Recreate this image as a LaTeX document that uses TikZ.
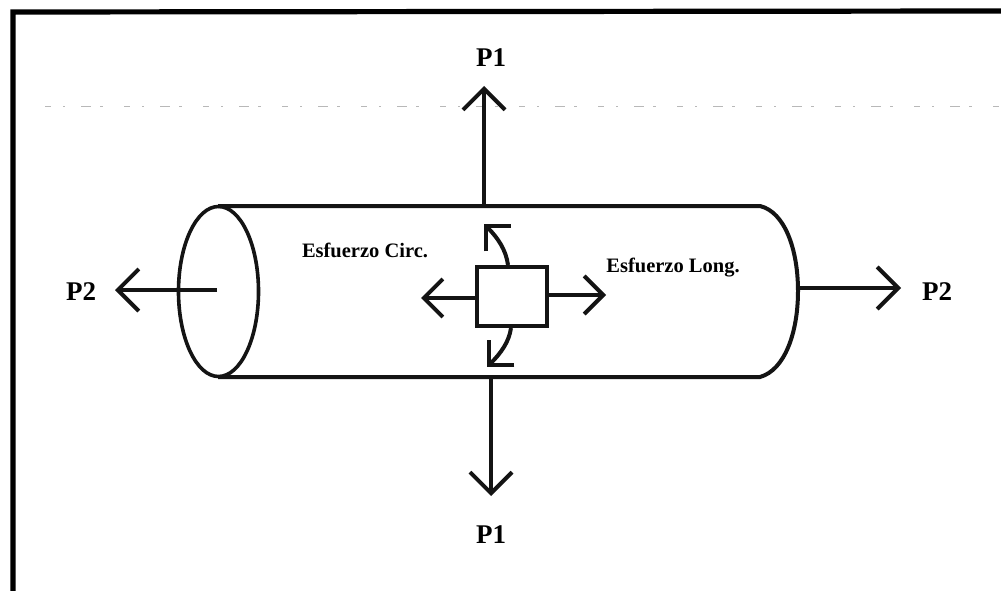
\documentclass[tikz,border=0pt]{standalone}
\usepackage{fontspec}
\setmainfont{Liberation Serif}
\usetikzlibrary{arrows.meta,shapes.geometric}
\tikzset{
  ink/.style={draw=black!92,line width=4pt},
  bigarrow/.style={ink,-{Straight Barb[length=21pt,width=42pt,line width=4pt]}},
  smallarrow/.style={ink,-{Straight Barb[length=19pt,width=38pt,line width=4pt]}},
  curvearrow/.style={ink,-{Straight Barb[length=18pt,width=36pt,line width=4pt]}},
  biglabel/.style={font=\bfseries\fontsize{27}{27}\selectfont,inner sep=0pt},
  smalllabel/.style={font=\bfseries\fontsize{20.5}{21}\selectfont,inner sep=0pt},
  frameline/.style={draw=black,line width=5.2pt},
  scanline/.style={draw=black!28,line width=1pt,dash pattern=on 6pt off 12pt on 2pt off 16pt on 10pt off 9pt on 3pt off 21pt}
}
\begin{document}
\begin{tikzpicture}[x=1pt,y=-1pt]
\useasboundingbox (0,0) rectangle (1001,591);
\fill[white] (0,0) rectangle (1001,591);
% frame of the scan
\coordinate (fa) at (13,591);
\coordinate (fb) at (13,12);
\coordinate (fc) at (1001,11);
\draw[frameline,line join=miter] (fa) -- (fb) -- (fc);
\coordinate (sa) at (45,106.5);
\coordinate (sb) at (1001,106.5);
\draw[scanline] (sa) -- (sb);
% cylinder body
\coordinate (bl) at (218,206);
\coordinate (br) at (760,206);
\coordinate (dr) at (760,377);
\coordinate (dl) at (218,377);
\draw[ink] (bl) -- (br) .. controls (785,212) and (798,250) .. (798,291)
  .. controls (798,332) and (785,370) .. (dr) -- (dl);
\node[ellipse,ink,line width=3.6pt,minimum width=80pt,minimum height=170pt,inner sep=0pt] (cap) at (218.5,291.5) {};
% stress element
\node[ink,minimum width=70pt,minimum height=59pt,inner sep=0pt] (elem) at (511.5,296) {};
% labels
\node[biglabel] (ptop) at (491,58) {P1};
\node[biglabel] (pbot) at (491,535) {P1};
\node[biglabel] (pleft) at (81,292) {P2};
\node[biglabel] (pright) at (937,292) {P2};
\node[smalllabel] (circ) at (365,250) {Esfuerzo Circ.};
\node[smalllabel] (long) at (673,268) {Esfuerzo Long.};
% load arrows
\coordinate (ta) at (484,206);
\coordinate (tb) at (484,86);
\draw[bigarrow] (ta) -- (tb);
\coordinate (ba) at (491,377);
\coordinate (bb) at (491,496);
\draw[bigarrow] (ba) -- (bb);
\coordinate (la) at (217,290);
\coordinate (lb) at (115,290);
\draw[bigarrow] (la) -- (lb);
\coordinate (ra) at (798,288);
\coordinate (rb) at (901,288);
\draw[bigarrow] (ra) -- (rb);
% element arrows
\coordinate (ela) at (421,298);
\draw[smallarrow] (elem.west |- ela) -- (ela);
\coordinate (era) at (606,295);
\draw[smallarrow] (elem.east |- era) -- (era);
\coordinate (cta) at (508,265);
\coordinate (ctb) at (484,224);
\draw[curvearrow] (cta) .. controls (506,250) and (498,238) .. (ctb);
\coordinate (cba) at (511,328);
\coordinate (cbb) at (487,367);
\draw[curvearrow] (cba) .. controls (509,342) and (501,353) .. (cbb);
\end{tikzpicture}
\end{document}
